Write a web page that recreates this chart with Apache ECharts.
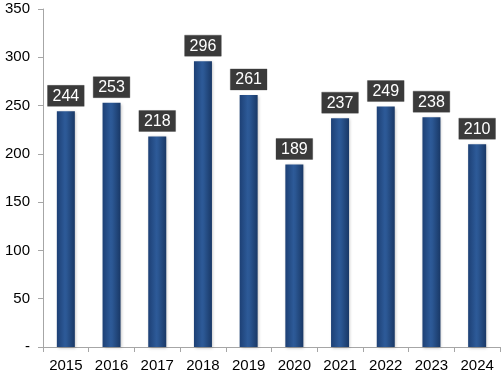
<!DOCTYPE html>
<html><head><meta charset="utf-8">
<script src="https://cdn.jsdelivr.net/npm/echarts@6/dist/echarts.min.js"></script>
<style>html,body{margin:0;padding:0;background:#fff}#c{width:502px;height:374px}</style>
</head><body><div id="c"></div>
<script>
var categories = ['2015','2016','2017','2018','2019','2020','2021','2022','2023','2024'];
var values = [244,253,218,296,261,189,237,249,238,210];
var yTicks = [0,50,100,150,200,250,300,350];

var chart = echarts.init(document.getElementById('c'));
chart.setOption({
  animation:false,
  grid:{left:43,right:2,top:9,bottom:27},
  xAxis:{type:'category',data:categories,
    axisLine:{lineStyle:{color:'#a6a6a6'}},
    axisTick:{show:true,length:5,lineStyle:{color:'#a6a6a6'}},
    axisLabel:{color:'#000',fontFamily:'Liberation Sans, Arial',fontSize:15,margin:11}},
  yAxis:{type:'value',min:0,max:350,interval:50,
    axisLine:{show:true,lineStyle:{color:'#a6a6a6'}},
    axisTick:{show:true,length:5,lineStyle:{color:'#a6a6a6'}},
    splitLine:{show:false},
    axisLabel:{color:'#000',fontFamily:'Liberation Sans, Arial',fontSize:15,margin:13,
      formatter:function(v){return v===0?'-':String(v);}}},
  series:[{type:'bar',data:values,barWidth:18,
    itemStyle:{color:new echarts.graphic.LinearGradient(0,0,1,0,[
      {offset:0,color:'#1d4075'},{offset:0.45,color:'#2d5a98'},{offset:0.55,color:'#2b5793'},{offset:1,color:'#193866'}]),
      shadowColor:'rgba(0,0,0,0.25)',shadowBlur:3,shadowOffsetX:1,shadowOffsetY:1},
    label:{show:true,position:'top',distance:5,color:'#fff',backgroundColor:'#3a3a3a',
      borderColor:'#bfbfbf',borderWidth:0.5,fontWeight:'normal',
      padding:[3,5,2,5],fontFamily:'Liberation Sans, Arial',fontSize:16}
  }]
});
</script></body></html>
